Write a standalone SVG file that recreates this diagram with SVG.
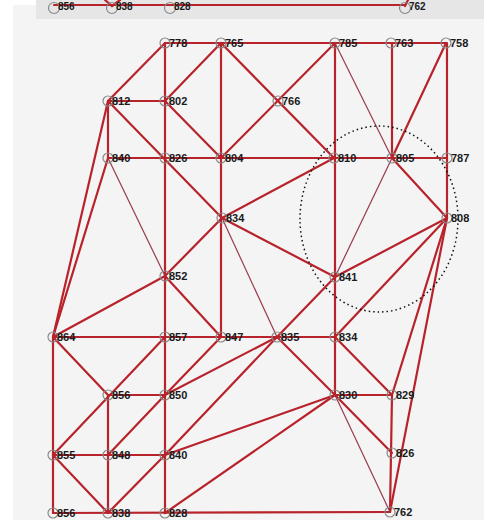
<svg xmlns="http://www.w3.org/2000/svg" width="484" height="520" viewBox="0 0 484 520">
<style>
.e{stroke:#b8232b;stroke-width:2.2;fill:none;stroke-linecap:round}
.t{stroke:#9a3a4c;stroke-width:1.2;fill:none}
.n circle{fill:none;stroke:#8a8a8a;stroke-width:1.2}
.n text{font-family:"Liberation Sans",Arial,sans-serif;font-size:11px;font-weight:bold;fill:#1a1a1a}
.n text.s{font-size:10px}
</style>
<rect x="0" y="0" width="484" height="520" fill="#ffffff"/>
<rect x="13" y="5" width="471" height="515" fill="#f4f4f4"/>
<rect x="36" y="0" width="448" height="19" fill="#e6e6e6"/>
<g id="connectors">
<line class="e" x1="54" y1="5" x2="405" y2="5"/>
<line class="e" x1="105" y1="0" x2="112" y2="6"/>
<line class="e" x1="120" y1="0" x2="112" y2="6"/>
<line class="e" x1="408" y1="0" x2="405" y2="6"/>
<line class="e" x1="165" y1="43" x2="446" y2="43"/>
<line class="e" x1="108" y1="101" x2="165" y2="101"/>
<line class="e" x1="108" y1="158" x2="447" y2="158"/>
<line class="e" x1="53" y1="337" x2="335" y2="337"/>
<line class="e" x1="108" y1="395" x2="165" y2="395"/>
<line class="e" x1="335" y1="395" x2="392" y2="395"/>
<line class="e" x1="53" y1="455" x2="165" y2="455"/>
<line class="e" x1="53" y1="513" x2="390" y2="512"/>
<line class="e" x1="165" y1="43" x2="165" y2="513"/>
<line class="e" x1="221" y1="43" x2="221" y2="337"/>
<line class="e" x1="335" y1="43" x2="335" y2="395"/>
<line class="e" x1="392" y1="43" x2="392" y2="158"/>
<line class="e" x1="392" y1="395" x2="390" y2="512"/>
<line class="e" x1="447" y1="43" x2="447" y2="218"/>
<line class="e" x1="108" y1="101" x2="108" y2="158"/>
<line class="e" x1="108" y1="395" x2="108" y2="513"/>
<line class="e" x1="53" y1="337" x2="53" y2="513"/>
<line class="e" x1="165" y1="43" x2="108" y2="101"/>
<line class="e" x1="221" y1="43" x2="165" y2="101"/>
<line class="e" x1="221" y1="43" x2="334" y2="158"/>
<line class="e" x1="335" y1="43" x2="221" y2="158"/>
<line class="t" x1="335" y1="43" x2="392" y2="158"/>
<line class="e" x1="446" y1="43" x2="392" y2="158"/>
<line class="e" x1="108" y1="101" x2="222" y2="218"/>
<line class="e" x1="165" y1="101" x2="221" y2="158"/>
<line class="e" x1="108" y1="101" x2="53" y2="337"/>
<line class="e" x1="108" y1="158" x2="53" y2="337"/>
<line class="t" x1="108" y1="158" x2="165" y2="276"/>
<line class="e" x1="222" y1="218" x2="334" y2="158"/>
<line class="e" x1="222" y1="218" x2="165" y2="276"/>
<line class="e" x1="165" y1="276" x2="53" y2="337"/>
<line class="e" x1="165" y1="276" x2="221" y2="337"/>
<line class="e" x1="222" y1="218" x2="335" y2="277"/>
<line class="t" x1="222" y1="218" x2="277" y2="337"/>
<line class="e" x1="392" y1="158" x2="447" y2="218"/>
<line class="t" x1="335" y1="277" x2="392" y2="158"/>
<line class="e" x1="335" y1="277" x2="447" y2="218"/>
<line class="e" x1="335" y1="277" x2="277" y2="337"/>
<line class="e" x1="447" y1="218" x2="335" y2="337"/>
<line class="e" x1="447" y1="218" x2="392" y2="395"/>
<line class="e" x1="447" y1="218" x2="390" y2="512"/>
<line class="e" x1="277" y1="337" x2="335" y2="395"/>
<line class="e" x1="335" y1="337" x2="392" y2="395"/>
<line class="e" x1="335" y1="395" x2="392" y2="453"/>
<line class="t" x1="335" y1="395" x2="390" y2="512"/>
<line class="e" x1="335" y1="395" x2="165" y2="455"/>
<line class="e" x1="335" y1="395" x2="165" y2="513"/>
<line class="e" x1="277" y1="337" x2="165" y2="395"/>
<line class="e" x1="277" y1="337" x2="165" y2="455"/>
<line class="e" x1="221" y1="337" x2="165" y2="395"/>
<line class="e" x1="165" y1="337" x2="53" y2="455"/>
<line class="e" x1="53" y1="337" x2="108" y2="395"/>
<line class="e" x1="165" y1="395" x2="108" y2="455"/>
<line class="e" x1="53" y1="455" x2="108" y2="513"/>
<line class="e" x1="165" y1="455" x2="108" y2="513"/>
</g>
<ellipse cx="379" cy="219" rx="79" ry="93" fill="none" stroke="#111" stroke-width="1.5" stroke-dasharray="1.5,3"/>
<g id="n-t856" class="n"><circle cx="54" cy="8" r="5.5"/><text class="s" x="58" y="10">856</text></g>
<g id="n-t838" class="n"><circle cx="112" cy="8" r="5.5"/><text class="s" x="116" y="10">838</text></g>
<g id="n-t828" class="n"><circle cx="170" cy="8" r="5.5"/><text class="s" x="174" y="10">828</text></g>
<g id="n-t762" class="n"><circle cx="405" cy="8" r="5.5"/><text class="s" x="409" y="10">762</text></g>
<g id="n778" class="n"><circle cx="165" cy="43" r="5"/><text x="169" y="47">778</text></g>
<g id="n765" class="n"><circle cx="221" cy="43" r="5"/><text x="225" y="47">765</text></g>
<g id="n785" class="n"><circle cx="335" cy="43" r="5"/><text x="339" y="47">785</text></g>
<g id="n763" class="n"><circle cx="391" cy="43" r="5"/><text x="395" y="47">763</text></g>
<g id="n758" class="n"><circle cx="446" cy="43" r="5"/><text x="450" y="47">758</text></g>
<g id="n812" class="n"><circle cx="108" cy="101" r="5"/><text x="112" y="105">812</text></g>
<g id="n802" class="n"><circle cx="165" cy="101" r="5"/><text x="169" y="105">802</text></g>
<g id="n766" class="n"><circle cx="278" cy="101" r="5"/><text x="282" y="105">766</text></g>
<g id="n840a" class="n"><circle cx="108" cy="158" r="5"/><text x="112" y="162">840</text></g>
<g id="n826a" class="n"><circle cx="165" cy="158" r="5"/><text x="169" y="162">826</text></g>
<g id="n804" class="n"><circle cx="221" cy="158" r="5"/><text x="225" y="162">804</text></g>
<g id="n810" class="n"><circle cx="334" cy="158" r="5"/><text x="338" y="162">810</text></g>
<g id="n805" class="n"><circle cx="392" cy="158" r="5"/><text x="396" y="162">805</text></g>
<g id="n787" class="n"><circle cx="447" cy="158" r="5"/><text x="451" y="162">787</text></g>
<g id="n834a" class="n"><circle cx="222" cy="218" r="5"/><text x="226" y="222">834</text></g>
<g id="n808" class="n"><circle cx="447" cy="218" r="5"/><text x="451" y="222">808</text></g>
<g id="n852" class="n"><circle cx="165" cy="276" r="5"/><text x="169" y="280">852</text></g>
<g id="n841" class="n"><circle cx="335" cy="277" r="5"/><text x="339" y="281">841</text></g>
<g id="n864" class="n"><circle cx="53" cy="337" r="5"/><text x="57" y="341">864</text></g>
<g id="n857" class="n"><circle cx="165" cy="337" r="5"/><text x="169" y="341">857</text></g>
<g id="n847" class="n"><circle cx="221" cy="337" r="5"/><text x="225" y="341">847</text></g>
<g id="n835" class="n"><circle cx="277" cy="337" r="5"/><text x="281" y="341">835</text></g>
<g id="n834b" class="n"><circle cx="335" cy="337" r="5"/><text x="339" y="341">834</text></g>
<g id="n856a" class="n"><circle cx="108" cy="395" r="5"/><text x="112" y="399">856</text></g>
<g id="n850" class="n"><circle cx="165" cy="395" r="5"/><text x="169" y="399">850</text></g>
<g id="n830" class="n"><circle cx="335" cy="395" r="5"/><text x="339" y="399">830</text></g>
<g id="n829" class="n"><circle cx="392" cy="395" r="5"/><text x="396" y="399">829</text></g>
<g id="n855" class="n"><circle cx="53" cy="455" r="5"/><text x="57" y="459">855</text></g>
<g id="n848" class="n"><circle cx="108" cy="455" r="5"/><text x="112" y="459">848</text></g>
<g id="n840b" class="n"><circle cx="165" cy="455" r="5"/><text x="169" y="459">840</text></g>
<g id="n826b" class="n"><circle cx="392" cy="453" r="5"/><text x="396" y="457">826</text></g>
<g id="n856b" class="n"><circle cx="53" cy="513" r="5"/><text x="57" y="517">856</text></g>
<g id="n838" class="n"><circle cx="108" cy="513" r="5"/><text x="112" y="517">838</text></g>
<g id="n828" class="n"><circle cx="165" cy="513" r="5"/><text x="169" y="517">828</text></g>
<g id="n762" class="n"><circle cx="390" cy="512" r="5"/><text x="394" y="516">762</text></g>
</svg>
